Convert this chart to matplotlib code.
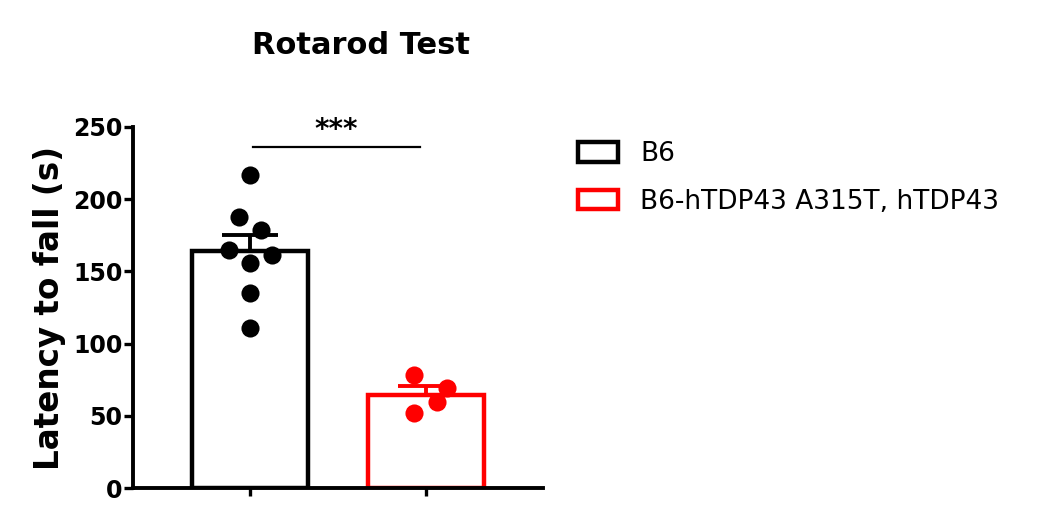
import numpy as np
import matplotlib
matplotlib.use("Agg")
import matplotlib.pyplot as plt

plt.rcParams['font.family'] = ['DejaVu Sans']

groups = ["B6", "B6-hTDP43 A315T, hTDP43"]
colors = ["#000000", "#ff0000"]
b6_values = [216.7, 187.7, 178.7, 164.8, 161.4, 155.8, 135.0, 110.8]
tdp_values = [78.3, 69.2, 59.6, 51.9]
b6_jitter = [0.0, -0.0625, 0.0625, -0.119, 0.125, 0.0, 0.0, 0.0]
tdp_jitter = [-0.068, 0.119, 0.0625, -0.068]
y_ticks = [0, 50, 100, 150, 200, 250]
title = "Rotarod Test"
ylabel = "Latency to fall (s)"
sig_label = "***"

data = [b6_values, tdp_values]
jitters = [b6_jitter, tdp_jitter]

W, H = 1038, 520
fig = plt.figure(figsize=(W / 100, H / 100), dpi=100)
ax = fig.add_axes([133 / W, 1 - 488 / H, (543 - 133) / W, (488 - 127) / H])

for i, (vals, col, jit, lab) in enumerate(zip(data, colors, jitters, groups)):
    vals = np.array(vals)
    mean = vals.mean()
    sem = vals.std(ddof=1) / np.sqrt(len(vals))
    ax.bar(i, mean, width=0.66, color="white", edgecolor=col, linewidth=3.2,
           label=lab, zorder=2)
    ax.errorbar(i, mean, yerr=[[0], [sem]], color=col, capsize=20,
                elinewidth=2.8, capthick=2.8, zorder=3)
    ax.scatter(i + np.array(jit), vals, s=170, color=col, zorder=4,
               linewidths=0)

# significance
ax.plot([0.017, 0.966], [236, 236], color="black", lw=1.6, zorder=5)
ax.text(0.49, 238.5, sig_label, ha="center", va="bottom", fontsize=20,
        fontweight="bold")

ax.set_xlim(-0.665, 1.665)
ax.set_ylim(0, 250)
ax.set_yticks(y_ticks)
ax.set_xticks([0, 1])
ax.set_xticklabels([])
for s in ["top", "right"]:
    ax.spines[s].set_visible(False)
for s in ["left", "bottom"]:
    ax.spines[s].set_linewidth(2.8)
ax.tick_params(axis="y", length=6.5, width=2.4, labelsize=17, pad=1)
ax.tick_params(axis="x", length=6, width=2.4)
for lbl in ax.get_yticklabels():
    lbl.set_fontweight("bold")
ax.set_ylabel(ylabel, fontsize=23.5, fontweight="bold", labelpad=5)

fig.text(361 / W, 1 - 46 / H, title, ha="center", va="center", fontsize=22,
         fontweight="bold")

leg = ax.legend(loc="upper left", bbox_to_anchor=(578 / W, 1 - 141 / H),
                bbox_transform=fig.transFigure, frameon=False,
                fontsize=19, handlelength=1.5, handleheight=0.76,
                handletextpad=0.85, labelspacing=0.83, borderpad=0,
                borderaxespad=0)

fig.savefig("out.png", dpi=100)
